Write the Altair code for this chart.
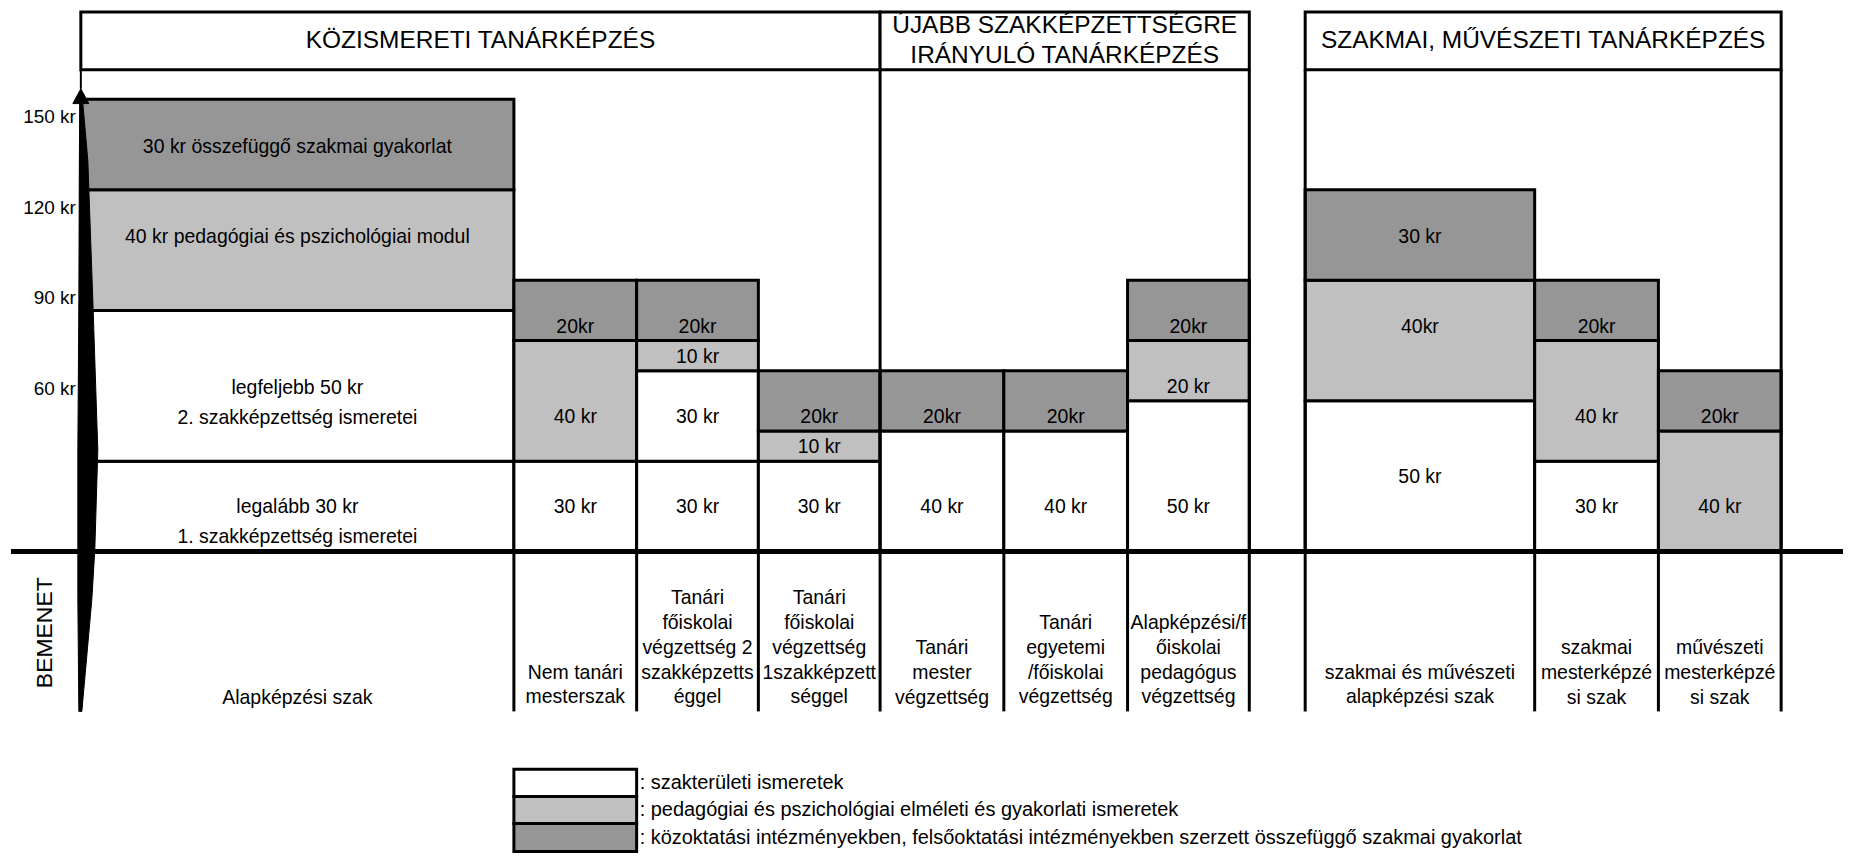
import altair as alt
import pandas as pd

FONT = "Liberation Sans"

# ---------------- data ----------------
sections = ["KÖZISMERETI TANÁRKÉPZÉS",
            "ÚJABB SZAKKÉPZETTSÉGRE\nIRÁNYULÓ TANÁRKÉPZÉS",
            "SZAKMAI, MŰVÉSZETI TANÁRKÉPZÉS"]
section_first_col = [0, 4, 7]
section_last_col = [3, 6, 9]

inputs = ["Alapképzési szak",
          "Nem tanári\nmesterszak",
          "Tanári\nfőiskolai\nvégzettség 2\nszakképzetts\néggel",
          "Tanári\nfőiskolai\nvégzettség\n1szakképzett\nséggel",
          "Tanári\nmester\nvégzettség",
          "Tanári\negyetemi\n/főiskolai\nvégzettség",
          "Alapképzési/f\nőiskolai\npedagógus\nvégzettség",
          "szakmai  és művészeti\nalapképzési szak",
          "szakmai\nmesterképzé\nsi szak",
          "művészeti\nmesterképzé\nsi szak"]

block_col = [0, 0, 0, 0,
             1, 1, 1,
             2, 2, 2, 2,
             3, 3, 3,
             4, 4,
             5, 5,
             6, 6, 6,
             7, 7, 7,
             8, 8, 8,
             9, 9]
block_kind = ["szak", "szak", "ped", "gyak",
              "szak", "ped", "gyak",
              "szak", "szak", "ped", "gyak",
              "szak", "ped", "gyak",
              "szak", "gyak",
              "szak", "gyak",
              "szak", "ped", "gyak",
              "szak", "ped", "gyak",
              "szak", "ped", "gyak",
              "ped", "gyak"]
block_credits = [30, 50, 40, 30,
                 30, 40, 20,
                 30, 30, 10, 20,
                 30, 10, 20,
                 40, 20,
                 40, 20,
                 50, 20, 20,
                 50, 40, 30,
                 30, 40, 20,
                 40, 20]
block_label = ["legalább 30 kr\n1. szakképzettség ismeretei",
               "legfeljebb 50 kr\n2. szakképzettség ismeretei",
               "40 kr pedagógiai és pszichológiai modul",
               "30 kr összefüggő szakmai gyakorlat",
               "30 kr", "40 kr", "20kr",
               "30 kr", "30 kr", "10 kr", "20kr",
               "30 kr", "10 kr", "20kr",
               "40 kr", "20kr",
               "40 kr", "20kr",
               "50 kr", "20 kr", "20kr",
               "50 kr", "40kr", "30 kr",
               "30 kr", "40 kr", "20kr",
               "40 kr", "20kr"]

kinds = ["szak", "ped", "gyak"]
kind_colors = ["#ffffff", "#c0c0c0", "#969696"]
kind_text = [": szakterületi ismeretek",
             ": pedagógiai és pszichológiai elméleti és gyakorlati ismeretek",
             ": közoktatási intézményekben, felsőoktatási intézményekben szerzett összefüggő szakmai gyakorlat"]

y_ticks = [150, 120, 90, 60]

# ---------------- layout ----------------
W, H = 1838, 846
Y_MIN, Y_MAX = -100, 180
PX_PER_KR = H / (Y_MAX - Y_MIN)

col_left = [80, 514, 637, 759, 881, 1005, 1129, 1307, 1537, 1661]
col_right = [514, 637, 759, 881, 1005, 1129, 1251, 1537, 1661, 1784]
# vertical row (in kr units) where each block's label sits (table-like rows)
label_row = [9.8, 49.4, 104.3, 134.1,
             14.8, 44.5, 74.5,
             14.8, 44.5, 64.4, 74.5,
             14.8, 34.8, 44.5,
             14.8, 44.5,
             14.8, 44.5,
             14.8, 54.5, 74.5,
             24.7, 74.5, 104.3,
             14.8, 44.5, 74.5,
             14.8, 44.5]
HEAD_TOP, HEAD_BOT = 179.0, 159.8
INPUT_BOT = -53.0
INPUT_LAST_LINE = -48.4
# arrow outline: (kr, left edge, right edge)
arrow_kr = [-53.0, -15.9, 0.6, 33.7, 83.4, 129.7, 148.6]
arrow_l = [78, 77, 77, 77, 78, 78.5, 79]
arrow_r = [81, 91, 94, 97, 92, 87, 82]
head_kr = [148.6, 153.5]
head_l = [72, 80]
head_r = [88, 80]

xs = alt.Scale(domain=[8, 8 + W], nice=False, zero=False)
ys = alt.Scale(domain=[Y_MIN, Y_MAX], nice=False, zero=False)


def X(f):
    return alt.X(f, type="quantitative", scale=xs, axis=None)


def Y(f):
    return alt.Y(f, type="quantitative", scale=ys, axis=None)


def first_line_centered(center, text, lh):
    n = text.count("\n") + 1
    return center + (n - 1) / 2 * lh / PX_PER_KR


def first_line_bottom(last, text, lh):
    n = text.count("\n") + 1
    return last + (n - 1) * lh / PX_PER_KR


fill_scale = alt.Scale(domain=kinds, range=kind_colors)

# ---------------- tables ----------------
rows = []
acc = {}
for c, k, cr, lab, lr in zip(block_col, block_kind, block_credits, block_label, label_row):
    b = acc.get(c, 0)
    rows.append(dict(x0=col_left[c], x1=col_right[c], y0=b, y1=b + cr, kind=k,
                     label=lab, ly=first_line_centered(lr, lab, 30),
                     xc=(col_left[c] + col_right[c]) / 2))
    acc[c] = b + cr
blocks = pd.DataFrame(rows)

hc = (HEAD_BOT + HEAD_TOP) / 2
heads = pd.DataFrame(dict(
    x0=[col_left[a] for a in section_first_col],
    x1=[col_right[b] for b in section_last_col],
    y0=[HEAD_BOT] * 3, y1=[HEAD_TOP] * 3,
    label=sections,
    xc=[(col_left[a] + col_right[b]) / 2 for a, b in zip(section_first_col, section_last_col)],
    yc=[first_line_centered(hc, s, 30) for s in sections],
))

sec_lines = sorted(set([col_right[b] for b in section_last_col] + [col_left[a] for a in section_first_col[1:]]))
sec_df = pd.DataFrame(dict(x=sec_lines, y0=[INPUT_BOT] * len(sec_lines), y1=[HEAD_BOT] * len(sec_lines)))
in_lines = sorted(set(col_left[1:] + col_right) - set(sec_lines))
in_df = pd.DataFrame(dict(x=in_lines, y0=[INPUT_BOT] * len(in_lines), y1=[0] * len(in_lines)))

inp_df = pd.DataFrame(dict(label=inputs, xc=[(l + r) / 2 for l, r in zip(col_left, col_right)],
                           y=[first_line_bottom(INPUT_LAST_LINE, s, 25) for s in inputs]))

tick_df = pd.DataFrame(dict(v=y_ticks, label=[f"{v} kr" for v in y_ticks], x=[75] * len(y_ticks)))

arrow_df = pd.DataFrame(dict(kr=arrow_kr, l=arrow_l, r=arrow_r))
head_df = pd.DataFrame(dict(kr=head_kr, l=head_l, r=head_r))

leg_top = [-72.2, -81.2, -90.2]
leg_bot = [-81.2, -90.2, -99.5]
leg_df = pd.DataFrame(dict(kind=kinds, text=kind_text, x0=[col_left[1]] * 3, x1=[col_right[1]] * 3,
                           y0=leg_bot, y1=leg_top,
                           yc=[(a + b) / 2 for a, b in zip(leg_top, leg_bot)],
                           tx=[col_right[1] + 3] * 3))

# ---------------- layers ----------------
block_rects = alt.Chart(blocks).mark_rect(stroke="black", strokeWidth=3).encode(
    x=X("x0"), x2="x1", y=Y("y0"), y2="y1",
    fill=alt.Fill("kind:N", scale=fill_scale, legend=None))

head_rects = alt.Chart(heads).mark_rect(fill="white", stroke="black", strokeWidth=3).encode(
    x=X("x0"), x2="x1", y=Y("y0"), y2="y1")

sec_rules = alt.Chart(sec_df).mark_rule(color="black", strokeWidth=3).encode(
    x=X("x"), y=Y("y0"), y2="y1")
in_rules = alt.Chart(in_df).mark_rule(color="black", strokeWidth=3).encode(
    x=X("x"), y=Y("y0"), y2="y1")

base_df = pd.DataFrame(dict(x0=[10], x1=[8 + W], y=[0]))
baseline = alt.Chart(base_df).mark_rule(color="black", strokeWidth=5).encode(
    x=X("x0"), x2="x1", y=Y("y"))

stem_df = pd.DataFrame(dict(x=[col_left[0]], y0=[HEAD_BOT], y1=[head_kr[-1]]))
stem = alt.Chart(stem_df).mark_rule(color="black", strokeWidth=2).encode(
    x=X("x"), y=Y("y0"), y2="y1")

arrow = alt.Chart(arrow_df).mark_area(orient="horizontal", fill="black", stroke="black",
                                      strokeWidth=1, opacity=1).encode(
    y=Y("kr"), x=X("l"), x2="r")
arrow_head = alt.Chart(head_df).mark_area(orient="horizontal", fill="black", stroke="black",
                                          strokeWidth=1, opacity=1).encode(
    y=Y("kr"), x=X("l"), x2="r")

block_text = alt.Chart(blocks).mark_text(font=FONT, fontSize=19.5, align="center", baseline="middle",
                                         lineBreak="\n", lineHeight=30, color="black").encode(
    x=X("xc"), y=Y("ly"), text="label:N")

head_text = alt.Chart(heads).mark_text(font=FONT, fontSize=24.5, align="center", baseline="middle",
                                       lineBreak="\n", lineHeight=30, color="black").encode(
    x=X("xc"), y=Y("yc"), text="label:N")

inp_text = alt.Chart(inp_df).mark_text(font=FONT, fontSize=19.5, align="center", baseline="middle",
                                       lineBreak="\n", lineHeight=25, color="black").encode(
    x=X("xc"), y=Y("y"), text="label:N")

tick_text = alt.Chart(tick_df).mark_text(font=FONT, fontSize=19, align="right", baseline="middle",
                                         dy=18, color="black").encode(
    x=X("x"), y=Y("v"), text="label:N")

bem_df = pd.DataFrame(dict(x=[44], y=[-26.9], t=["BEMENET"]))
bem_text = alt.Chart(bem_df).mark_text(font=FONT, fontSize=23, align="center", baseline="middle",
                                       angle=270, color="black").encode(
    x=X("x"), y=Y("y"), text="t:N")

leg_rects = alt.Chart(leg_df).mark_rect(stroke="black", strokeWidth=3).encode(
    x=X("x0"), x2="x1", y=Y("y0"), y2="y1",
    fill=alt.Fill("kind:N", scale=fill_scale, legend=None))
leg_text = alt.Chart(leg_df).mark_text(font=FONT, fontSize=20, align="left", baseline="middle",
                                       color="black").encode(
    x=X("tx"), y=Y("yc"), text="text:N")

chart = alt.layer(
    block_rects, head_rects, sec_rules, in_rules, baseline, stem, arrow, arrow_head,
    block_text, head_text, inp_text, tick_text, bem_text, leg_rects, leg_text
).properties(width=W, height=H, padding=0, background="white").configure_view(stroke=None)

chart.save("out.html", embed_options={"renderer": "svg", "actions": False})
